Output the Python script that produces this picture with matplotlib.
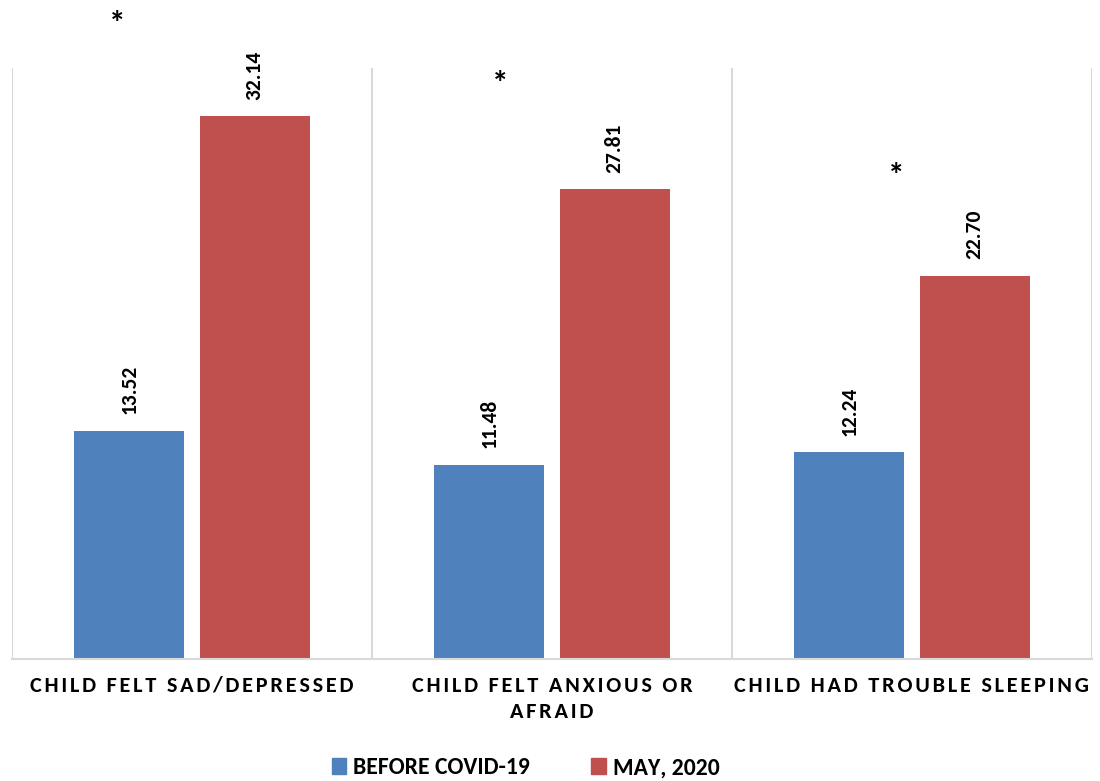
import matplotlib.pyplot as plt
from matplotlib.patches import Patch
import numpy as np

categories = ["CHILD FELT SAD/DEPRESSED", "CHILD FELT ANXIOUS OR\nAFRAID", "CHILD HAD TROUBLE SLEEPING"]
before_covid = [13.52, 11.48, 12.24]
may_2020 = [32.14, 27.81, 22.70]
# significance markers: (x in category units, height)
star_x = [-0.208, 0.855, 1.955]
star_y = [37.6, 34.05, 28.6]

BLUE = "#4F81BD"
RED = "#C0504D"
GRID = "#D9D9D9"
FONT = ["Carlito", "DejaVu Sans"]


def spaced(s, sep="\u200a"):
    """Widen the tracking of a label by putting hair spaces between letters."""
    return "\n".join(sep.join(line) for line in s.split("\n"))


fig = plt.figure(figsize=(11, 7.81), dpi=100)
ax = fig.add_axes([0.0109, 0.1562, 0.9818, 0.7567])

x = np.arange(len(categories))
width = 0.305
off = 0.174
ax.bar(x - off, before_covid, width, color=BLUE, zorder=2)
ax.bar(x + off, may_2020, width, color=RED, zorder=2)

for xs, vals in [(x - off, before_covid), (x + off, may_2020)]:
    for xi, v in zip(xs, vals):
        ax.annotate(f"{v:.2f}", (xi, v), xytext=(0, 12), textcoords="offset points",
                    rotation=90, ha="center", va="bottom", fontsize=15.5,
                    fontweight="bold", family=FONT)

for sx, sy in zip(star_x, star_y):
    ax.text(sx, sy, "*", ha="center", va="center", fontsize=24,
            fontweight="bold", family=FONT, clip_on=False)

for b in [-0.5, 0.5, 1.5, 2.5]:
    ax.axvline(b, color=GRID, lw=1.5, zorder=1)

ax.set_xlim(-0.5, 2.5)
ax.set_ylim(0, 35)
ax.set_yticks([])
ax.set_xticks(x)
ax.set_xticklabels([spaced(c) for c in categories], fontsize=16,
                   fontweight="bold", family=FONT, linespacing=1.42)
ax.tick_params(axis="x", length=0, pad=12)
for s in ["top", "left", "right"]:
    ax.spines[s].set_visible(False)
ax.spines["bottom"].set_color(GRID)
ax.spines["bottom"].set_linewidth(1.5)

handles = [Patch(color=BLUE, label="BEFORE COVID-19"),
           Patch(color=RED, label="MAY, 2020")]
fig.legend(handles=handles, loc="center", bbox_to_anchor=(0.478, 0.017),
           ncol=2, frameon=False, handlelength=0.62, handleheight=0.62,
           handletextpad=0.3, columnspacing=2.6,
           prop={"family": FONT, "weight": "bold", "size": 17})

fig.savefig("out.png", dpi=100)
